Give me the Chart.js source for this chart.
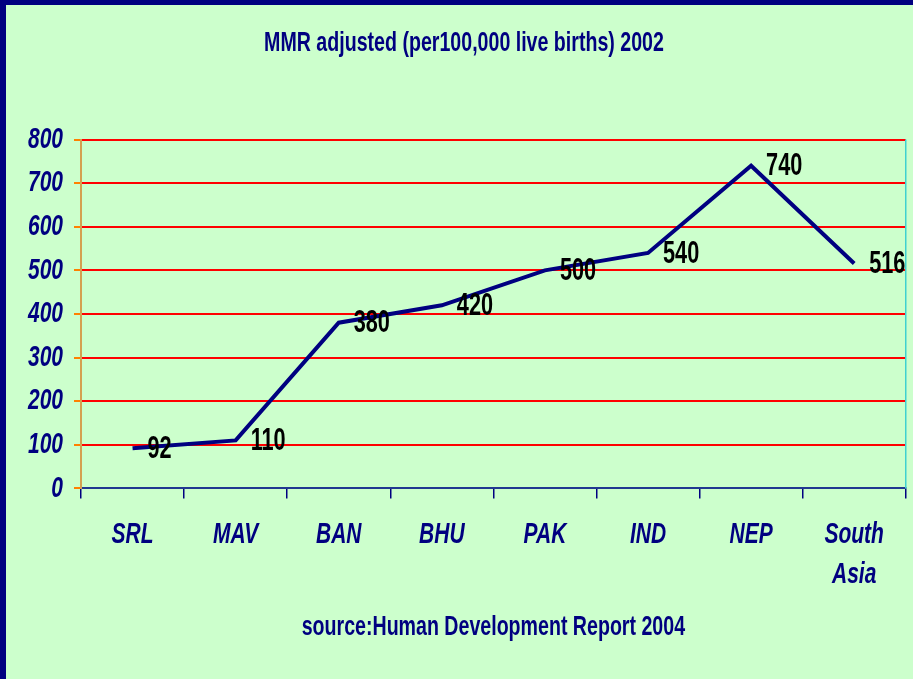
<!DOCTYPE html>
<html>
<head>
<meta charset="utf-8">
<title>MMR adjusted 2002</title>
<script src="https://cdn.jsdelivr.net/npm/chart.js@4.4.1/dist/chart.umd.min.js"></script>
<style>
  html, body { margin: 0; padding: 0; background: #000080; }
  #chart { display: block; }
</style>
</head>
<body>
<canvas id="chart" width="913" height="679"></canvas>
<script>
// data
const categories = ['SRL', 'MAV', 'BAN', 'BHU', 'PAK', 'IND', 'NEP', ['South', 'Asia']];
const mmrValues = [92, 110, 380, 420, 500, 540, 740, 516];
const yMin = 0;
const yMax = 800;
const yStep = 100;
const titleText = 'MMR adjusted (per100,000 live births) 2002';
const sourceText = 'source:Human Development Report 2004';

const NAVY = '#000080';
const FONT = "'Liberation Sans', Arial, sans-serif";
const NARROW = 0.7; // slide uses a tall condensed face

const canvas = document.getElementById('chart');
const ctx = canvas.getContext('2d');

// squeeze all text horizontally around its anchor point
const rawFillText = ctx.fillText.bind(ctx);
ctx.fillText = function (text, x, y, maxWidth) {
  this.save();
  this.translate(x, y);
  this.scale(NARROW, 1);
  if (maxWidth === undefined) rawFillText(text, 0, 0);
  else rawFillText(text, 0, 0, maxWidth / NARROW);
  this.restore();
};

// navy frame + green slide panel
const slideBackground = {
  id: 'slideBackground',
  beforeDraw(chart) {
    const c = chart.ctx;
    c.save();
    c.fillStyle = NAVY;
    c.fillRect(0, 0, chart.width, chart.height);
    c.fillStyle = '#CCFFCC';
    c.fillRect(6, 5, chart.width - 6, chart.height - 5);
    c.restore();
  },
  afterDraw(chart) {
    const a = chart.chartArea;
    const c = chart.ctx;
    c.save();
    c.strokeStyle = '#40D0D0';
    c.lineWidth = 1.5;
    c.beginPath();
    c.moveTo(a.right, a.top);
    c.lineTo(a.right, a.bottom);
    c.stroke();
    c.restore();
  }
};

// value labels to the right of each point
const valueLabels = {
  id: 'valueLabels',
  afterDatasetsDraw(chart) {
    const c = chart.ctx;
    const meta = chart.getDatasetMeta(0);
    c.save();
    c.fillStyle = '#000000';
    c.font = 'bold 31px ' + FONT;
    c.textAlign = 'left';
    c.textBaseline = 'middle';
    meta.data.forEach((pt, i) => {
      c.fillText(String(mmrValues[i]), pt.x + 15, pt.y + 1);
    });
    c.restore();
  }
};

new Chart(ctx, {
  type: 'line',
  data: {
    labels: categories,
    datasets: [{
      label: 'MMR',
      data: mmrValues,
      borderColor: NAVY,
      borderWidth: 4,
      pointRadius: 0,
      tension: 0,
      fill: false
    }]
  },
  options: {
    responsive: false,
    animation: false,
    layout: { padding: { left: 20, right: 5, top: 5, bottom: 0 } },
    plugins: {
      legend: { display: false },
      tooltip: { enabled: false },
      title: {
        display: true,
        text: titleText,
        color: NAVY,
        font: { family: FONT, size: 28, weight: 'bold' },
        padding: { top: 21, bottom: 80 }
      },
      subtitle: {
        display: true,
        position: 'bottom',
        fullSize: false,
        text: sourceText,
        color: NAVY,
        font: { family: FONT, size: 28, weight: 'bold' },
        padding: { top: 18, bottom: 35 }
      }
    },
    scales: {
      x: {
        offset: true,
        afterFit(s) { s.height = 104; },
        grid: {
          display: true,
          offset: true,
          drawOnChartArea: false,
          tickLength: 10,
          color: NAVY,
          lineWidth: 1.5
        },
        border: { display: true, color: '#203890', width: 2 },
        ticks: {
          color: NAVY,
          padding: 16,
          maxRotation: 0,
          autoSkip: false,
          font: { family: FONT, size: 30, weight: 'bold', style: 'italic', lineHeight: 1.333 }
        }
      },
      y: {
        min: yMin,
        max: yMax,
        afterFit(s) { s.width = 61; },
        grid: {
          color: (c) => (c.tick && c.tick.value === 0 ? 'rgba(0,0,0,0)' : '#FF0000'),
          lineWidth: 2,
          tickLength: 7,
          tickColor: '#FF8000'
        },
        border: { display: true, color: '#D4A050', width: 2 },
        ticks: {
          stepSize: yStep,
          color: NAVY,
          padding: 11,
          font: { family: FONT, size: 30, weight: 'bold', style: 'italic' }
        }
      }
    }
  },
  plugins: [slideBackground, valueLabels]
});
</script>
</body>
</html>
